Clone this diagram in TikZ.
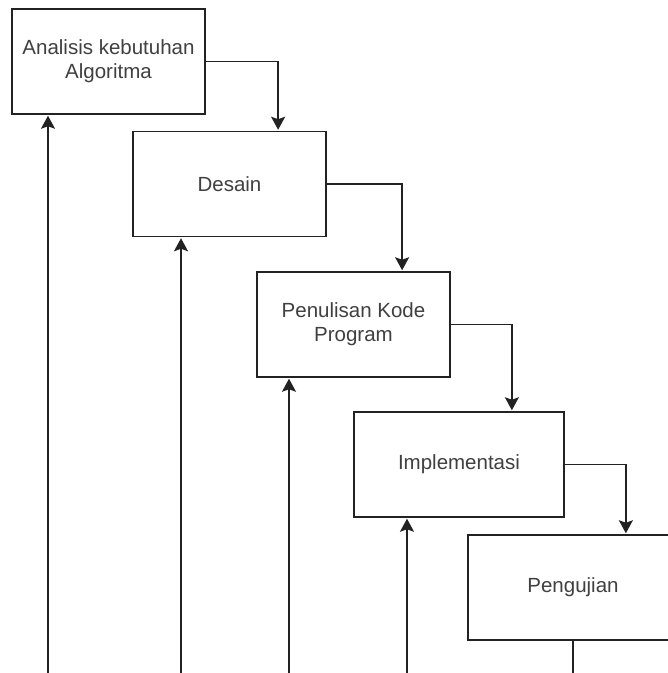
\documentclass[tikz,border=0pt]{standalone}
\usepackage{fontspec}
\setmainfont{Liberation Sans}
\usetikzlibrary{arrows.meta,calc}
\definecolor{lineclr}{HTML}{222222}
\definecolor{txtclr}{HTML}{404040}
\begin{document}
\begin{tikzpicture}[x=1pt,y=-1pt,
  stepbox/.style={draw=lineclr,line width=1.5pt,rectangle,fill=white,
    minimum width=#1,minimum height=105pt,inner sep=0pt,align=center,
    text=txtclr,font=\fontsize{20.5}{24}\selectfont},
  stepbox/.default=193pt,
  conn/.style={draw=lineclr,line width=1.5pt,shorten >=1pt,-{Stealth[length=13pt,width=14pt,inset=2.5pt]}},
  plainconn/.style={draw=lineclr,line width=1.5pt}]
\useasboundingbox (0,0) rectangle (668,673);
\begin{scope}
\clip (0,0) rectangle (668,673);
\node[stepbox] (A) at (108.5,61.5) {Analisis kebutuhan\\Algoritma};
\node[stepbox] (D) at (229.5,184) {Desain};
\node[stepbox] (P) at (353.5,324.5) {Penulisan Kode\\Program};
\node[stepbox=210pt] (I) at (459,464.5) {Implementasi};
\node[stepbox=210pt] (U) at (573,587.5) {Pengujian};

\coordinate (b1) at (48,673);
\coordinate (b2) at (181,673);
\coordinate (b3) at (289,673);
\coordinate (b4) at (407,673);
\coordinate (b5) at (573,673);

\draw[conn] (A.east) -| ($(D.north west)!0.75!(D.north east)$);
\draw[conn] (D.east) -| ($(P.north west)!0.75!(P.north east)$);
\draw[conn] (P.east) -| ($(I.north west)!0.75!(I.north east)$);
\draw[conn] (I.east) -| ($(U.north west)!0.75!(U.north east)$);

\draw[conn] (b1) -- (b1 |- A.south);
\draw[conn] (b2) -- (b2 |- D.south);
\draw[conn] (b3) -- (b3 |- P.south);
\draw[conn] (b4) -- (b4 |- I.south);
\draw[plainconn] (U.south) -- (b5);
\end{scope}
\end{tikzpicture}
\end{document}
